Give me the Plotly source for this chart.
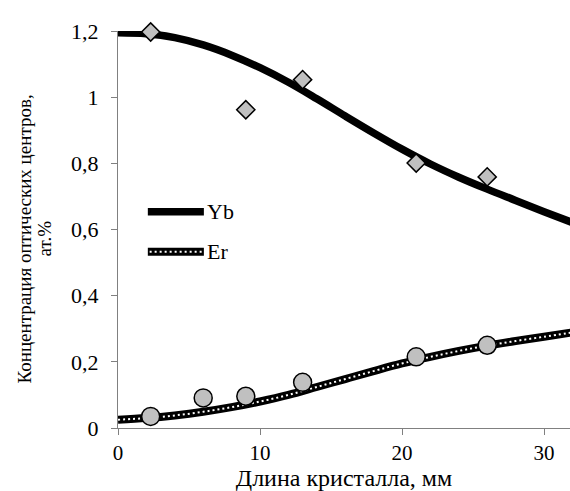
import plotly.graph_objects as go

# Measured concentrations (at.%) along the crystal length (mm)
yb_x = [2.3, 9.0, 13.0, 21.0, 26.0]
yb_y = [1.197, 0.962, 1.053, 0.801, 0.759]

er_x = [2.3, 6.0, 9.0, 13.0, 21.0, 26.0]
er_y = [0.035, 0.091, 0.096, 0.138, 0.215, 0.250]

# Fitted distribution curves
fit_x = [0, 2, 4, 6, 8, 10, 12, 14, 16, 18, 20, 22, 24, 26, 28, 30, 32]
yb_fit = [1.195, 1.192, 1.180, 1.158, 1.127, 1.089, 1.045, 0.995, 0.943,
          0.892, 0.843, 0.798, 0.758, 0.722, 0.688, 0.654, 0.621]
er_fit = [0.025, 0.030, 0.038, 0.049, 0.063, 0.080, 0.100, 0.124, 0.148,
          0.172, 0.195, 0.215, 0.233, 0.249, 0.263, 0.276, 0.289]

x_ticks = [0, 10, 20, 30]
y_ticks = [0, 0.2, 0.4, 0.6, 0.8, 1.0, 1.2]
y_title = ["Концентрация оптических центров,", "ат.%"]

FONT = "Liberation Serif, Times New Roman, serif"
GREY = "#c0c0c0"

fig = go.Figure()

fig.add_trace(go.Scatter(x=fit_x, y=yb_fit, mode="lines", line=dict(color="black", width=7.5, shape="spline"),
                         showlegend=False, hoverinfo="skip"))
fig.add_trace(go.Scatter(x=fit_x, y=er_fit, mode="lines", line=dict(color="black", width=8, shape="spline"),
                         showlegend=False, hoverinfo="skip"))
fig.add_trace(go.Scatter(x=fit_x, y=er_fit, mode="lines",
                         line=dict(color="white", width=2, shape="spline", dash="2px,3px"),
                         showlegend=False, hoverinfo="skip"))

fig.add_trace(go.Scatter(x=yb_x, y=yb_y, mode="markers", cliponaxis=False,
                         marker=dict(symbol="diamond", size=14, color=GREY, line=dict(color="black", width=1.5)),
                         showlegend=False))
fig.add_trace(go.Scatter(x=er_x, y=er_y, mode="markers", cliponaxis=False,
                         marker=dict(symbol="circle", size=18, color=GREY, line=dict(color="black", width=1.5)),
                         showlegend=False))

# Legend drawn with shapes and labels
leg = [("Yb", 0.545, False), ("Er", 0.444, True)]
shapes = []
annotations = []
for name, yy, dotted in leg:
    shapes.append(dict(type="line", xref="paper", yref="paper", x0=0.066, x1=0.190, y0=yy, y1=yy,
                       line=dict(color="black", width=7.5 if not dotted else 8)))
    if dotted:
        shapes.append(dict(type="line", xref="paper", yref="paper", x0=0.070, x1=0.186, y0=yy, y1=yy,
                           line=dict(color="white", width=2, dash="2px,3px")))
    annotations.append(dict(xref="paper", yref="paper", x=0.192, y=yy, text=name, showarrow=False,
                            xanchor="left", yanchor="middle", font=dict(family=FONT, size=22, color="black")))

# Two-line vertical axis title, each line centred on the plot height
for line_text, xp in zip(y_title, [-0.206, -0.162]):
    annotations.append(dict(xref="paper", yref="paper", x=xp, y=0.477, text=line_text, showarrow=False,
                            textangle=-90, xanchor="center", yanchor="middle",
                            font=dict(family=FONT, size=19, color="black")))

fig.update_layout(
    width=570, height=491,
    margin=dict(l=118, r=0, t=31, b=63),
    paper_bgcolor="white", plot_bgcolor="white",
    separators=", ",
    font=dict(family=FONT, size=19, color="black"),
    shapes=shapes, annotations=annotations,
    xaxis=dict(range=[0, 31.83], tickvals=x_ticks, showgrid=False, zeroline=False,
               showline=True, linecolor="#808080", linewidth=1,
               ticks="outside", ticklen=6, tickcolor="#808080",
               tickfont=dict(family=FONT, size=21),
               title=dict(text="Длина кристалла, мм", font=dict(family=FONT, size=24), standoff=0)),
    yaxis=dict(range=[0, 1.2], tickvals=y_ticks, showgrid=False, zeroline=False,
               showline=True, linecolor="#808080", linewidth=1,
               ticks="outside", ticklen=6, tickcolor="#808080", ticklabelstandoff=8,
               tickfont=dict(family=FONT, size=22)),
)

fig.write_html("out.html")
